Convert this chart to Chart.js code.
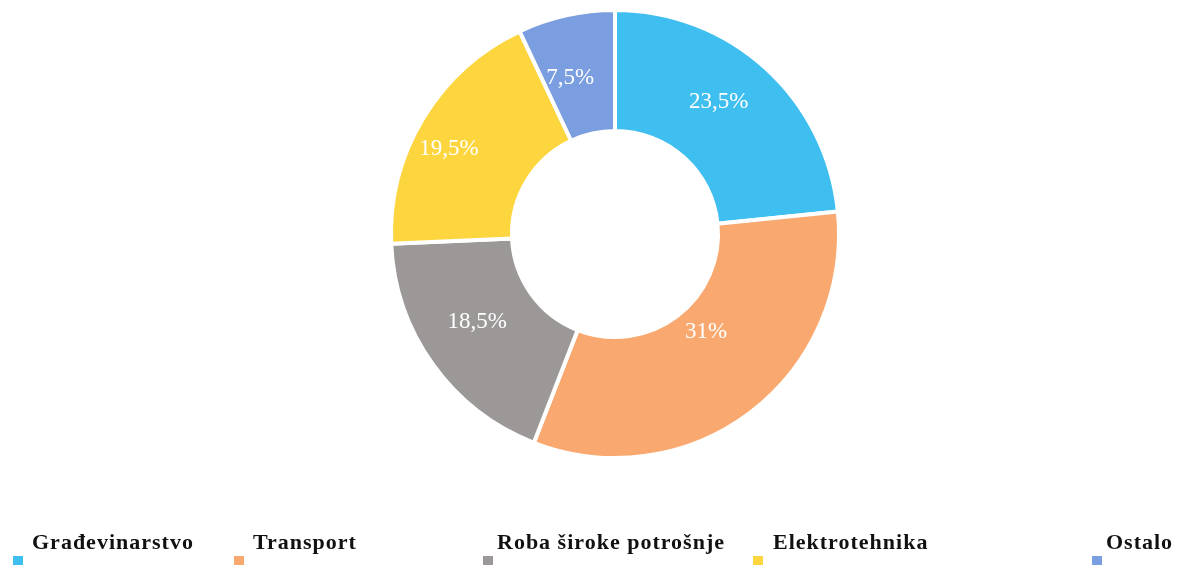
<!DOCTYPE html>
<html>
<head>
<meta charset="utf-8">
<script src="https://cdn.jsdelivr.net/npm/chart.js@4"></script>
<style>
  html, body { margin: 0; padding: 0; background: #fff; }
  #wrap { width: 1178px; height: 565px; position: relative; }
</style>
</head>
<body>
<div id="wrap"><canvas id="myChart"></canvas></div>
<script>
const categories = ["Građevinarstvo", "Transport", "Roba široke potrošnje", "Elektrotehnika", "Ostalo"];
// udjeli očitani s geometrije isječaka na slici
const shares = [23.4, 32.5, 18.4, 18.7, 7.0];
// natpisi kako pišu na slici
const valueLabels = ["23,5%", "31%", "18,5%", "19,5%", "7,5%"];
const sliceColors = ["#3fbef0", "#f9a96f", "#9c9898", "#fdd63f", "#7a9edf"];

// natpisi s postocima na sredini svakog isječka (s malim pomakom kao na slici)
const sliceLabels = {
  id: "sliceLabels",
  afterDatasetsDraw(chart) {
    const ctx = chart.ctx;
    const meta = chart.getDatasetMeta(0);
    const nudge = [[-6, -11], [-8, -32], [-5, -7], [-26, 0], [-9, 4]];
    ctx.save();
    ctx.font = "23px 'Liberation Serif', 'Times New Roman', serif";
    ctx.fillStyle = "#ffffff";
    ctx.textAlign = "center";
    ctx.textBaseline = "middle";
    meta.data.forEach((arc, i) => {
      const p = arc.tooltipPosition();
      ctx.fillText(valueLabels[i], p.x + nudge[i][0], p.y + nudge[i][1]);
    });
    ctx.restore();
  },
};

// legenda ispod grafa: tekst iznad, kvadratić ispod lijevo
const bottomLegend = {
  id: "bottomLegend",
  afterDraw(chart) {
    const ctx = chart.ctx;
    const boxX = [13, 234, 483, 753, 1092];
    const textX = [32, 253, 497, 773, 1106];
    ctx.save();
    ctx.font = "bold 22px 'Liberation Serif', 'Times New Roman', serif";
    ctx.letterSpacing = "1px";
    ctx.textBaseline = "alphabetic";
    ctx.textAlign = "left";
    chart.data.labels.forEach((label, i) => {
      ctx.fillStyle = "#111111";
      ctx.fillText(label, textX[i], 549);
      ctx.fillStyle = chart.data.datasets[0].backgroundColor[i];
      ctx.fillRect(boxX[i], 556, 10, 10);
    });
    ctx.restore();
  },
};

new Chart(document.querySelector("#myChart"), {
  type: "doughnut",
  data: {
    labels: categories,
    datasets: [
      {
        data: shares,
        backgroundColor: sliceColors,
        borderColor: "#ffffff",
        borderWidth: 4,
      },
    ],
  },
  options: {
    responsive: true,
    maintainAspectRatio: false,
    cutout: "46%",
    layout: { padding: { top: 8, bottom: 105, left: 52, right: 0 } },
    plugins: {
      legend: false,
      tooltip: { enabled: false },
    },
    animation: { duration: 0 },
  },
  plugins: [sliceLabels, bottomLegend],
});
</script>
</body>
</html>
